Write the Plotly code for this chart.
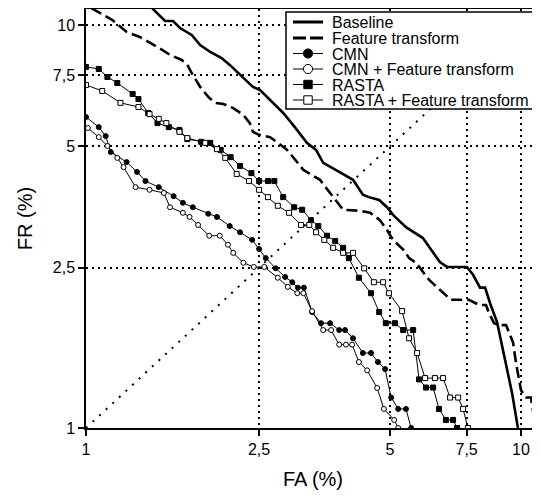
import plotly.graph_objects as go

# ---------------- data (FA %, FR %) ----------------
names = ["Baseline", "Feature transform", "CMN", "CMN + Feature transform",
         "RASTA", "RASTA + Feature transform"]

base_fa = [1.42, 1.52, 1.585, 1.645, 1.75, 1.83, 1.93, 2.05, 2.14, 2.26, 2.36, 2.42, 2.51, 2.65, 2.84,
           3.02, 3.22, 3.38, 3.51, 3.82, 4.11, 4.33, 4.47, 4.72, 4.92, 5.08, 5.44, 5.95, 6.18, 6.51,
           6.76, 7.51, 7.76, 8.05, 8.27, 8.49, 8.81, 9.04, 9.29, 9.54, 9.84]
base_fr = [11.0, 10.23, 10.23, 9.83, 9.45, 8.92, 8.57, 8.28, 7.96, 7.51, 7.18, 7.02, 6.90, 6.52, 6.05,
           5.58, 5.10, 4.90, 4.55, 4.32, 4.13, 3.79, 3.74, 3.68, 3.53, 3.38, 3.15, 2.96, 2.80, 2.58,
           2.51, 2.51, 2.40, 2.23, 2.23, 2.04, 1.83, 1.61, 1.39, 1.22, 1.0]

ft_fa = [1.03, 1.15, 1.24, 1.33, 1.46, 1.56, 1.66, 1.71, 1.75, 1.83, 1.91, 1.98, 2.07, 2.18, 2.30,
         2.38, 2.42, 2.51, 2.65, 2.90, 3.16, 3.45, 3.64, 3.90, 4.27, 4.50, 4.74, 4.92, 5.08, 5.36,
         5.53, 5.74, 6.15, 6.62, 6.90, 7.59, 8.01, 8.31, 8.44, 8.67, 8.90, 9.24, 9.39, 9.59, 9.74,
         10.0, 10.27, 10.54, 10.71, 10.88]
ft_fr = [11.0, 10.29, 9.61, 9.34, 8.82, 8.43, 8.19, 7.96, 7.60, 7.02, 6.63, 6.41, 6.37, 6.22, 5.98,
         5.71, 5.43, 5.33, 5.27, 4.90, 4.37, 4.13, 3.83, 3.48, 3.46, 3.42, 3.28, 3.10, 2.93, 2.77,
         2.64, 2.57, 2.33, 2.16, 2.08, 2.08, 2.02, 2.02, 1.93, 1.82, 1.80, 1.80, 1.73, 1.63, 1.45,
         1.24, 1.19, 1.19, 1.065, 1.0]

cmn_fa = [1.0, 1.07, 1.11, 1.14, 1.24, 1.31, 1.37, 1.47, 1.59, 1.67, 1.76, 1.91, 2.00, 2.14, 2.26,
          2.41, 2.50, 2.59, 2.73, 2.87, 2.98, 3.07, 3.17, 3.31, 3.47, 3.64, 3.82, 3.94, 4.11, 4.33,
          4.52, 4.69, 4.87, 5.03, 5.22, 5.44, 5.59]
cmn_fr = [5.91, 5.58, 5.30, 4.84, 4.57, 4.32, 4.10, 3.96, 3.76, 3.62, 3.53, 3.40, 3.34, 3.17, 3.06,
          2.93, 2.78, 2.64, 2.49, 2.37, 2.30, 2.23, 2.23, 1.94, 1.82, 1.82, 1.75, 1.75, 1.67, 1.535,
          1.535, 1.458, 1.40, 1.19, 1.115, 1.115, 1.0]

cmnft_fa = [1.01, 1.07, 1.12, 1.18, 1.22, 1.30, 1.40, 1.51, 1.56, 1.67, 1.73, 1.81, 1.92, 2.03, 2.12,
            2.18, 2.30, 2.43, 2.57, 2.76, 2.91, 3.06, 3.16, 3.31, 3.51, 3.66, 3.82, 3.96, 4.09, 4.24,
            4.43, 4.67, 4.84, 5.11, 5.22]
cmnft_fr = [5.55, 5.27, 5.01, 4.68, 4.44, 3.96, 3.90, 3.83, 3.53, 3.42, 3.34, 3.19, 3.00, 3.00, 2.85,
            2.72, 2.57, 2.51, 2.51, 2.36, 2.24, 2.16, 2.16, 1.95, 1.75, 1.75, 1.61, 1.61, 1.61, 1.458,
            1.39, 1.257, 1.115, 1.047, 1.0]

rasta_fa = [1.0, 1.07, 1.12, 1.18, 1.28, 1.32, 1.39, 1.46, 1.55, 1.64, 1.71, 1.84, 1.93, 2.04, 2.15,
            2.26, 2.40, 2.50, 2.62, 2.71, 2.84, 3.01, 3.14, 3.29, 3.42, 3.58, 3.74, 3.90, 4.02, 4.24,
            4.52, 4.72, 4.89, 5.13, 5.36, 5.65, 5.83, 6.05, 6.28, 6.48, 6.72, 6.98, 7.13]
rasta_fr = [7.87, 7.78, 7.43, 7.18, 6.74, 6.55, 6.05, 5.71, 5.58, 5.49, 5.21, 5.13, 5.10, 4.90, 4.70,
            4.47, 4.29, 4.10, 4.10, 4.10, 3.74, 3.53, 3.48, 3.28, 3.17, 3.00, 2.91, 2.80, 2.64, 2.36,
            2.16, 1.94, 1.82, 1.82, 1.75, 1.75, 1.32, 1.26, 1.26, 1.115, 1.047, 1.047, 1.0]

rastaft_fa = [1.0, 1.09, 1.20, 1.32, 1.40, 1.47, 1.53, 1.64, 1.71, 1.88, 2.00, 2.09, 2.22, 2.37, 2.50,
              2.62, 2.76, 2.93, 3.12, 3.26, 3.38, 3.53, 3.70, 3.90, 4.11, 4.36, 4.59, 4.82, 4.97, 5.33,
              5.53, 5.77, 6.02, 6.34, 6.62, 6.87, 7.17, 7.36, 7.55]
rastaft_fr = [7.10, 6.86, 6.41, 6.26, 6.01, 5.85, 5.71, 5.43, 5.24, 5.10, 4.92, 4.68, 4.27, 4.10, 3.90,
              3.74, 3.56, 3.42, 3.19, 3.19, 3.06, 2.93, 2.80, 2.72, 2.72, 2.49, 2.30, 2.30, 2.16, 1.95,
              1.67, 1.535, 1.33, 1.33, 1.33, 1.19, 1.19, 1.115, 1.0]

tick_vals = [1, 2.5, 5, 7.5, 10]
tick_text = ["1", "2,5", "5", "7,5", "10"]

# ---------------- figure ----------------
FONT = "Liberation Sans, Arial, sans-serif"
W, H = 540, 497
OFF = 8                      # page body margin offset
ML, MR, MT, MB = 78, 8, 1, 77
PW, PH = W - ML - MR, H - MT - MB

fig = go.Figure()

# diagonal FA = FR
fig.add_trace(go.Scatter(x=[1, 12], y=[1, 12], mode="lines",
                         line=dict(color="black", width=2, dash="2px,7px"),
                         hoverinfo="skip", showlegend=False))

fig.add_trace(go.Scatter(x=base_fa, y=base_fr, mode="lines", name=names[0],
                         line=dict(color="black", width=2.6), showlegend=False))
fig.add_trace(go.Scatter(x=ft_fa, y=ft_fr, mode="lines", name=names[1],
                         line=dict(color="black", width=2.6, dash="11px,5px"), showlegend=False))

def marker_trace(xs, ys, name, symbol, filled):
    return go.Scatter(
        x=xs, y=ys, mode="lines+markers", name=name, showlegend=False,
        line=dict(color="black", width=1),
        marker=dict(symbol=symbol, size=5,
                    color="black" if filled else "white",
                    line=dict(color="black", width=1)))

fig.add_trace(marker_trace(cmn_fa, cmn_fr, names[2], "circle", True))
fig.add_trace(marker_trace(cmnft_fa, cmnft_fr, names[3], "circle", False))
fig.add_trace(marker_trace(rasta_fa, rasta_fr, names[4], "square", True))
fig.add_trace(marker_trace(rastaft_fa, rastaft_fr, names[5], "square", False))

# ---------------- hand-drawn legend box (paper coords from window pixels) ----------------
def pxx(p):
    return (p - OFF - ML) / PW

def pxy(p):
    return (H - MB - (p - OFF)) / PH

shapes = []
annotations = []
shapes.append(dict(type="rect", xref="paper", yref="paper", layer="above",
                   x0=pxx(286), x1=pxx(533), y0=pxy(109), y1=pxy(12),
                   fillcolor="white", line=dict(color="black", width=1.5)))
rows = [22, 38, 53.5, 69, 84.5, 100]
lx0, lx1, lxc, tx = 293, 323, 308, 330
styles = [("solid", None), ("dash", None), ("line", ("circle", True)),
          ("line", ("circle", False)), ("line", ("square", True)), ("line", ("square", False))]
for r, nm, st in zip(rows, names, styles):
    kind, mk = st
    if kind == "solid":
        shapes.append(dict(type="line", xref="paper", yref="paper", layer="above",
                           x0=pxx(lx0), x1=pxx(lx1), y0=pxy(r), y1=pxy(r),
                           line=dict(color="black", width=3)))
    elif kind == "dash":
        for a, b in [(lx0, lx0 + 13), (lx0 + 17, lx1)]:
            shapes.append(dict(type="line", xref="paper", yref="paper", layer="above",
                               x0=pxx(a), x1=pxx(b), y0=pxy(r), y1=pxy(r),
                               line=dict(color="black", width=3)))
    else:
        shapes.append(dict(type="line", xref="paper", yref="paper", layer="above",
                           x0=pxx(lx0), x1=pxx(lx1), y0=pxy(r), y1=pxy(r),
                           line=dict(color="black", width=1)))
        sym, filled = mk
        hs = 4.6 if sym == "circle" else 4.2
        shapes.append(dict(type="circle" if sym == "circle" else "rect",
                           xref="paper", yref="paper", layer="above",
                           x0=pxx(lxc - hs), x1=pxx(lxc + hs),
                           y0=pxy(r + hs), y1=pxy(r - hs),
                           fillcolor="black" if filled else "white",
                           line=dict(color="black", width=1)))
    annotations.append(dict(xref="paper", yref="paper", x=pxx(tx), y=pxy(r + 0.5),
                            xanchor="left", yanchor="middle", showarrow=False,
                            text=nm, font=dict(family=FONT, size=16, color="black")))

axis_common = dict(
    type="log", tickmode="array", tickvals=tick_vals, ticktext=tick_text,
    showgrid=True, gridcolor="black", gridwidth=2, griddash="2px,4px",
    showline=True, linecolor="black", linewidth=1.5,
    ticks="outside", ticklen=6, tickwidth=1.5, tickcolor="black",
    tickfont=dict(family=FONT, size=16, color="black"),
    zeroline=False, automargin=False,
)

fig.update_layout(
    width=W, height=H,
    margin=dict(l=ML, r=MR, t=MT, b=MB, autoexpand=False),
    paper_bgcolor="white", plot_bgcolor="white",
    showlegend=False,
    xaxis=dict(axis_common, range=[0, 1.0437], mirror=True,
               title=dict(text="FA (%)", font=dict(family=FONT, size=20, color="black"))),
    yaxis=dict(axis_common, range=[0, 1.0397], mirror=False,
               title=dict(text="FR (%)", font=dict(family=FONT, size=20, color="black"))),
    shapes=shapes,
    annotations=annotations,
)

fig.write_html("out.html")
